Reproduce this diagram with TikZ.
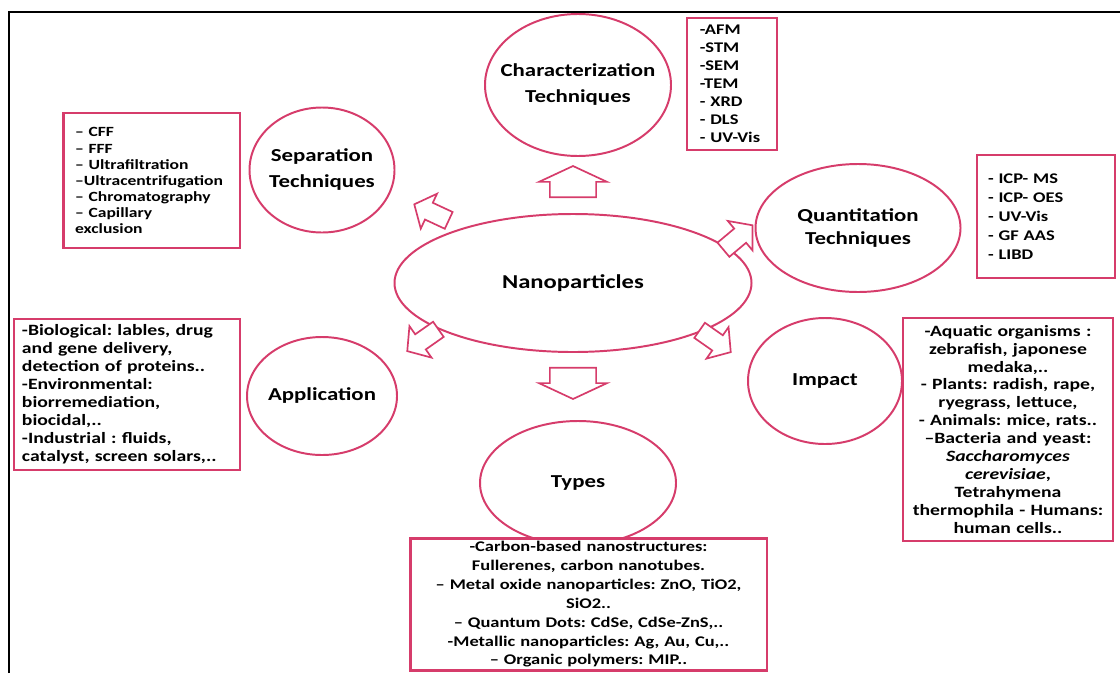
\documentclass[tikz,border=0pt]{standalone}
\usepackage{fontspec}
\setmainfont{Carlito}[FakeStretch=1.25]
\usetikzlibrary{shapes.geometric,shapes.arrows}
\definecolor{rosered}{HTML}{D63C6B}
\frenchspacing

\begin{document}
\begin{tikzpicture}[
    x=0.25mm, y=-0.25mm,
    font=\bfseries,
    bubble/.style     = {ellipse, draw=rosered, line width=1.4pt, fill=white,
                         inner sep=0pt},
    bubtext/.style    = {align=center, inner sep=0pt,
                         font=\bfseries\fontsize{13}{18.5}\selectfont},
    listbox/.style    = {draw=rosered, line width=2pt, fill=white, inner ysep=2pt,
                         font=\bfseries\fontsize{10.5}{12.8}\selectfont},
    blockarrow/.style = {single arrow, draw=rosered, line width=1.2pt, fill=white,
                         inner xsep=0pt},
    bigarrow/.style   = {blockarrow, minimum height=7.8mm, minimum width=17mm,
                         inner ysep=5.1mm, single arrow tip angle=130},
    smallarrow/.style = {blockarrow, minimum height=9.5mm, minimum width=7mm,
                         inner ysep=2.1mm, single arrow tip angle=100},
    frame/.style      = {draw=black, line width=2pt},
  ]
  \useasboundingbox (0,0) rectangle (1120,673);
  \draw[frame] (9,673) -- (9,12) -- (1120,12);

  % --- Centre ----------------------------------------------------------
  \node[bubble, minimum width=89.25mm, minimum height=34.5mm,
        label={[bubtext, font=\bfseries\fontsize{14}{18}\selectfont]center:Nanoparticles}]
    (nano) at (573,283) {};

  % --- Satellites ------------------------------------------------------
  \node[bubble, minimum width=46.5mm, minimum height=35.5mm,
        label={[bubtext]center:Characterization\\Techniques}] (charac) at (578,85) {};
  \node[bubble, minimum width=36.25mm, minimum height=31.25mm,
        label={[bubtext]center:Separation\\Techniques}] (sep) at (322,170) {};
  \node[bubble, minimum width=51.25mm, minimum height=32mm,
        label={[bubtext, font=\bfseries\fontsize{13}{16}\selectfont]center:Quantitation\\Techniques}]
    (quant) at (858,228) {};
  \node[bubble, minimum width=37.5mm, minimum height=29.5mm,
        label={[bubtext]center:Application}] (app) at (322,396) {};
  \node[bubble, minimum width=38.5mm, minimum height=31.5mm,
        label={[bubtext]center:Impact}] (impact) at (825,381) {};
  \node[bubble, minimum width=49mm, minimum height=31mm,
        label={[bubtext]center:Types}] (types) at (578,483) {};

  % --- Block arrows ----------------------------------------------------
  \node[bigarrow, rotate=90]  (toCharac) at (573,187) {};
  \node[bigarrow, rotate=-90] (toTypes)  at (573,378) {};
  \node[smallarrow, rotate=155] (toSep)    at (435,214) {};
  \node[smallarrow, rotate=40]  (toQuant)  at (735,240) {};
  \node[smallarrow, rotate=215] (toApp)    at (426,338) {};
  \node[smallarrow, rotate=-35] (toImpact) at (712,339) {};

  % --- Lists -----------------------------------------------------------
  \node[listbox, align=left, text width=16.1mm, inner xsep=3.2mm, minimum height=33mm]
    (techlist) at (732,84)
    {-AFM\\-STM\\-SEM\\-TEM\\- XRD\\- DLS\\- UV-Vis};
  \node[listbox, align=left, text width=38.2mm, inner xsep=3mm, minimum height=33.75mm,
        font=\bfseries\fontsize{10}{11.4}\selectfont]
    (seplist) at (151.5,180.5)
    {– CFF\\– FFF\\– Ultrafiltration\\–Ultracentrifugation\\– Chromatography\\– Capillary\\exclusion};
  \node[listbox, align=left, text width=29mm, inner xsep=2.75mm, minimum height=30.75mm,
        font=\bfseries\fontsize{10.5}{13.5}\selectfont]
    (quantlist) at (1046,216.5)
    {- ICP- MS\\- ICP- OES\\- UV-Vis\\- GF AAS\\- LIBD};
  \node[listbox, align=left, text width=52.5mm, inner xsep=2mm, minimum height=37.75mm,
        font=\bfseries\fontsize{11.2}{12.8}\selectfont]
    (applist) at (127,394.5)
    {-Biological: lables, drug\\and gene delivery,\\detection of proteins..\\-Environmental:\\
     biorremediation,\\biocidal,..\\-Industrial : fluids,\\catalyst, screen solars,..};
  \node[listbox, align=center, text width=49mm, inner xsep=1.75mm, minimum height=55.75mm,
        font=\bfseries\fontsize{11.2}{12.8}\selectfont]
    (impactlist) at (1008,429.5)
    {-Aquatic organisms :\\zebrafish, japonese\\medaka,..\\- Plants: radish, rape,\\
     ryegrass, lettuce,\\- Animals: mice, rats..\\–Bacteria and yeast:\\
     \textit{Saccharomyces}\\\textit{cerevisiae},\\Tetrahymena\\thermophila - Humans:\\human cells..};
  \node[listbox, align=center, text width=86mm, inner xsep=1.6mm, minimum height=32.5mm,
        font=\bfseries\fontsize{10.5}{13.4}\selectfont]
    (typelist) at (588.5,604.5)
    {-Carbon-based nanostructures:\\Fullerenes, carbon nanotubes.\\
     – Metal oxide nanoparticles: ZnO, TiO2,\\SiO2..\\– Quantum Dots: CdSe, CdSe-ZnS,..\\
     -Metallic nanoparticles: Ag, Au, Cu,..\\– Organic polymers: MIP..};

\end{tikzpicture}
\end{document}
